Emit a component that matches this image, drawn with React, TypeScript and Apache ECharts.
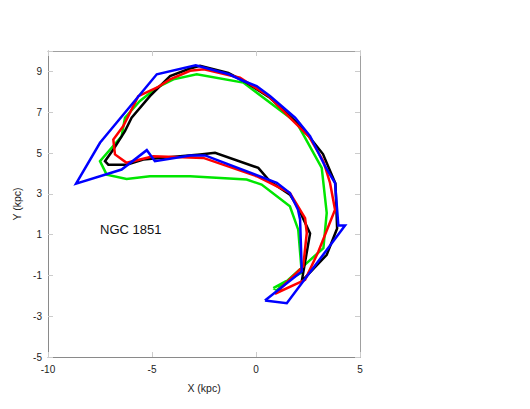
import React, { useEffect, useRef } from "react";
import * as echarts from "echarts";

const xTicksMin = -10;
const xTicksMax = 5;
const yTicksMin = -5;
const yTicksMax = 10;
const clusterName = "NGC 1851";

const blackOrbit: [number, number][] = [
  [2.2, -1.28], [3.4, 0.01], [3.9, 1.3], [3.82, 3.5], [3.22, 4.95], [2.6, 5.75],
  [1.88, 6.56], [0.67, 7.71], [-0.45, 8.45], [-1.33, 8.92], [-2.69, 9.27],
  [-3.17, 9.14], [-4.13, 8.77], [-5.1, 7.79], [-5.98, 6.73], [-6.3, 6.07],
  [-6.86, 5.17], [-7.26, 4.6], [-7.1, 4.43], [-6.22, 4.43], [-5.42, 4.68],
  [-2.69, 4.93], [-1.97, 5.01], [0.11, 4.27], [0.67, 3.61], [1.63, 2.96],
  [2.03, 2.31], [2.6, 1.06], [2.2, -1.28],
];

const redOrbit: [number, number][] = [
  [0.91, -1.9], [2.36, -1.22], [3.0, 0.17], [3.8, 2.22], [3.56, 3.53],
  [3.24, 4.6], [2.55, 5.8], [1.71, 6.65], [0.6, 7.8], [-0.77, 8.69],
  [-2.5, 9.1], [-3.17, 9.03], [-4.13, 8.61], [-4.77, 8.2], [-5.66, 7.79],
  [-6.38, 6.32], [-6.86, 5.66], [-6.78, 4.93], [-6.22, 4.52], [-4.94, 4.84],
  [-2.53, 4.76], [0.03, 3.86], [1.63, 3.04], [2.36, 1.81], [2.44, 1.08],
  [2.27, -0.56], [0.91, -1.9],
];

const blueOrbit: [number, number][] = [
  [0.43, -2.23], [1.48, -2.36], [4.28, 1.44], [3.96, 1.44], [3.8, 3.53],
  [3.32, 4.35], [2.6, 5.83], [1.88, 6.73], [0.67, 7.79], [0.03, 8.28],
  [-0.6, 8.53], [-1.3, 8.86], [-2.9, 9.3], [-4.77, 8.86], [-7.5, 5.5],
  [-8.65, 3.5], [-6.46, 4.19], [-5.25, 5.14], [-4.86, 4.6], [-3.17, 4.88],
  [-2.45, 4.88], [1.0, 3.54], [1.63, 3.04], [2.02, 2.22], [2.12, 1.73],
  [2.2, -0.81], [0.43, -2.23],
];

const greenOrbit: [number, number][] = [
  [0.83, -1.62], [1.0, -1.72], [3.24, 0.34], [3.4, 2.06], [3.16, 4.27],
  [2.27, 5.91], [1.96, 6.48], [-0.61, 8.45], [-2.85, 8.86], [-3.97, 8.61],
  [-4.77, 8.2], [-5.58, 7.55], [-6.3, 6.73], [-6.46, 5.82], [-7.5, 4.6],
  [-7.18, 3.94], [-6.22, 3.73], [-5.1, 3.86], [-3.17, 3.86], [-0.45, 3.7],
  [0.27, 3.45], [1.63, 2.39], [2.03, 1.24], [2.2, -0.86], [0.83, -1.62],
];

const orbitSeries = [
  { name: "green", data: greenOrbit, color: "#00e600" },
  { name: "black", data: blackOrbit, color: "#000000" },
  { name: "red", data: redOrbit, color: "#ff0000" },
  { name: "blue", data: blueOrbit, color: "#0000ff" },
];

export default function App() {
  const ref = useRef<HTMLDivElement>(null);
  useEffect(() => {
    if (!ref.current) return;
    const chart = echarts.init(ref.current, undefined, { renderer: "svg" });
    const font = "'Liberation Sans', Arial, Helvetica, sans-serif";
    const axisLine = { show: true, onZero: false, lineStyle: { color: "#8a8a8a", width: 1 } };
    const axisLine2 = { show: true, onZero: false, lineStyle: { color: "#a0a0a0", width: 1 } };
    const tick = { show: true, inside: true, length: 5, lineStyle: { color: "#cccccc" } };
    chart.setOption({
      animation: false,
      backgroundColor: "#ffffff",
      grid: { left: 48, right: 170, top: 51, bottom: 52, containLabel: false },
      xAxis: [
        {
          type: "value", min: xTicksMin, max: xTicksMax, interval: 5,
          name: "X (kpc)", nameLocation: "middle", nameGap: 25,
          nameTextStyle: { fontFamily: font, fontSize: 10.5, color: "#222" },
          axisLine, axisTick: tick, splitLine: { show: false },
          axisLabel: { fontFamily: font, fontSize: 10, color: "#222", margin: 7 },
        },
        {
          type: "value", position: "top", min: xTicksMin, max: xTicksMax, interval: 5,
          axisLine: axisLine2,
          axisTick: tick, axisLabel: { show: false }, splitLine: { show: false },
        },
      ],
      yAxis: [
        {
          type: "value", min: yTicksMin, max: yTicksMax, interval: 2,
          name: "Y (kpc)", nameLocation: "middle", nameGap: 20,
          nameTextStyle: { fontFamily: font, fontSize: 10.5, color: "#222" },
          axisLine, axisTick: tick, splitLine: { show: false },
          axisLabel: {
            fontFamily: font, fontSize: 10, color: "#222", margin: 6,
            formatter: (v: number) => (v === 10 ? "" : String(v)),
          },
        },
        {
          type: "value", position: "right", min: yTicksMin, max: yTicksMax, interval: 2,
          axisLine: axisLine2,
          axisTick: tick, axisLabel: { show: false }, splitLine: { show: false },
        },
      ],
      graphic: [
        {
          type: "text", left: 100, top: 223,
          style: { text: clusterName, font: `13px ${font}`, fill: "#111" },
        },
      ],
      series: orbitSeries.map((s) => ({
        type: "line",
        name: s.name,
        data: s.data,
        xAxisIndex: 0,
        yAxisIndex: 0,
        showSymbol: false,
        symbol: "none",
        lineStyle: { color: s.color, width: 2.5, join: "miter" },
        itemStyle: { color: s.color },
      })),
    });
    return () => chart.dispose();
  }, []);
  return <div ref={ref} style={{ width: 530, height: 409, position: "absolute", left: 0, top: 0 }} />;
}
